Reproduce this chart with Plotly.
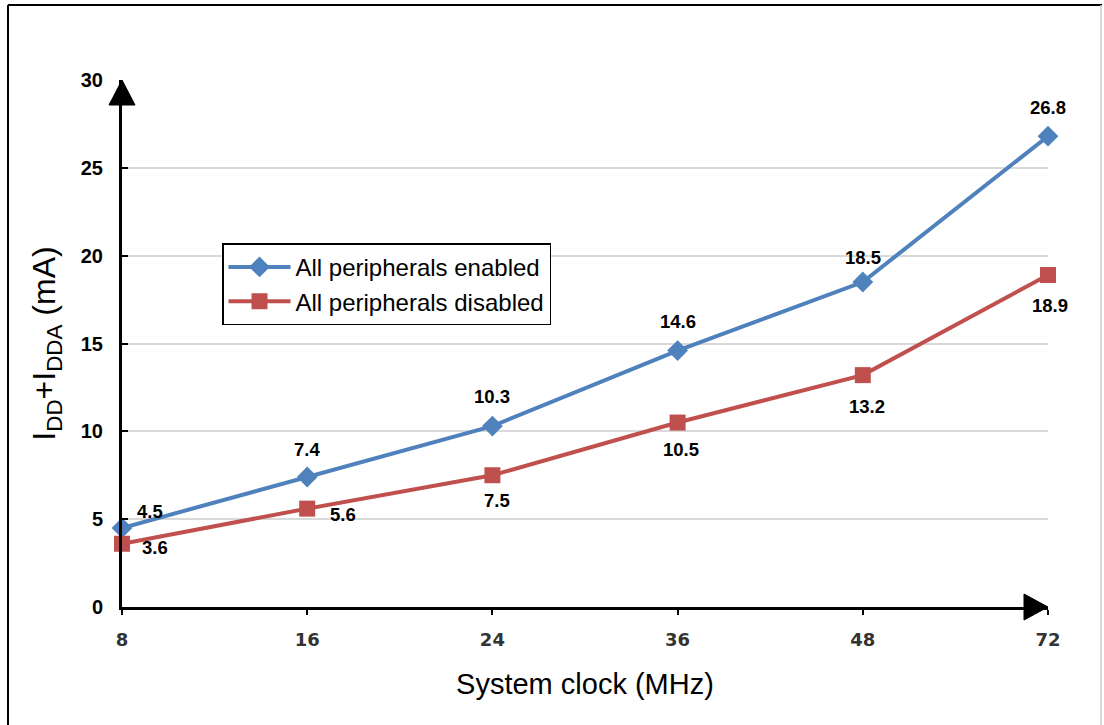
import plotly.graph_objects as go

clocks = ["8", "16", "24", "36", "48", "72"]
enabled = [4.5, 7.4, 10.3, 14.6, 18.5, 26.8]
disabled = [3.6, 5.6, 7.5, 10.5, 13.2, 18.9]
series_names = ["All peripherals enabled", "All peripherals disabled"]
y_ticks = [0, 5, 10, 15, 20, 25, 30]

BLUE = "#4f81bd"
RED = "#c0504d"
FONT = "Liberation Sans, Arial, sans-serif"

W, H = 1104, 725
L, R, T, B = 122, 56, 80, 118
pw, ph = W - L - R, H - T - B

fig = go.Figure()
fig.add_trace(go.Scatter(x=clocks, y=enabled, name=series_names[0], mode="lines+markers",
                         line=dict(color=BLUE, width=4),
                         marker=dict(symbol="diamond", size=16, color=BLUE),
                         cliponaxis=False))
fig.add_trace(go.Scatter(x=clocks, y=disabled, name=series_names[1], mode="lines+markers",
                         line=dict(color=RED, width=4),
                         marker=dict(symbol="square", size=16, color=RED),
                         cliponaxis=False))

# label offsets (pixels)
off_en = [(28, 16), (0, 28), (0, 30), (0, 29), (0, 25), (0, 29)]
off_dis = [(33, -4), (36, -6), (5, -25), (3, -27), (4, -31), (2, -31)]
for i, c in enumerate(clocks):
    fig.add_annotation(x=i, y=enabled[i], text=f"{enabled[i]}", showarrow=False,
                       xref="x", yref="y",
                       xshift=off_en[i][0], yshift=off_en[i][1],
                       font=dict(family=FONT, size=18.5, color="black", weight="bold"))
    fig.add_annotation(x=i, y=disabled[i], text=f"{disabled[i]}", showarrow=False,
                       xref="x", yref="y",
                       xshift=off_dis[i][0], yshift=off_dis[i][1],
                       font=dict(family=FONT, size=18.5, color="black", weight="bold"))

def px2paper(xp, yp):
    return (xp - L) / pw, (H - B - yp) / ph

def tri(pts):
    return "M " + " L ".join(f"{px2paper(x, y)[0]},{px2paper(x, y)[1]}" for x, y in pts) + " Z"

fig.add_shape(type="path", xref="paper", yref="paper", path=tri([(122, 80), (109, 105), (135, 105)]),
              fillcolor="black", line=dict(color="black", width=1))
fig.add_shape(type="path", xref="paper", yref="paper", path=tri([(1048, 607), (1024, 594), (1024, 620)]),
              fillcolor="black", line=dict(color="black", width=1))

# outer frame (left, top black; right light gray)
def seg(p, q, color, width):
    a, b = px2paper(*p)
    c, d = px2paper(*q)
    fig.add_shape(type="line", xref="paper", yref="paper", x0=a, y0=b, x1=c, y1=d,
                  line=dict(color=color, width=width), layer="below")

seg((8, 5), (8, 725), "black", 2)
seg((8, 5), (1102, 5), "black", 2)
seg((1101, 5), (1101, 725), "#cccccc", 1.5)

fig.update_layout(
    width=W, height=H,
    margin=dict(l=L, r=R, t=T, b=B),
    paper_bgcolor="white", plot_bgcolor="white",
    font=dict(family=FONT, color="black"),
    showlegend=True,
    legend=dict(x=0.108, y=0.69, xanchor="left", yanchor="top",
                bordercolor="black", borderwidth=1.5, bgcolor="white",
                font=dict(family=FONT, size=24, color="black"),
                tracegroupgap=0, itemwidth=62),
    xaxis=dict(type="category", categoryorder="array", categoryarray=clocks,
               range=[0, 5], showgrid=False, showline=True, linecolor="black", linewidth=3,
               ticks="outside", ticklen=5, tickwidth=2, tickcolor="black",
               ticklabelstandoff=9,
               tickfont=dict(family="DejaVu Sans", size=18, color="#333", weight="bold"),
               title=dict(text="System clock (MHz)", font=dict(family=FONT, size=29, color="black"),
                          standoff=26),
               zeroline=False),
    yaxis=dict(range=[0, 30], tickvals=y_ticks, showgrid=True, gridcolor="#d9d9d9", gridwidth=1.5,
               showline=True, linecolor="black", linewidth=3,
               ticks="inside", ticklen=6, tickwidth=2, tickcolor="black",
               ticklabelstandoff=12,
               tickfont=dict(family=FONT, size=20, color="black", weight="bold"),
               title=dict(text="I<sub>DD</sub>+I<sub>DDA</sub> (mA)",
                          font=dict(family=FONT, size=32, color="black"), standoff=16),
               zeroline=False),
)

fig.write_html("out.html", config={"displayModeBar": False},
               post_script="document.body.style.margin='0';")
